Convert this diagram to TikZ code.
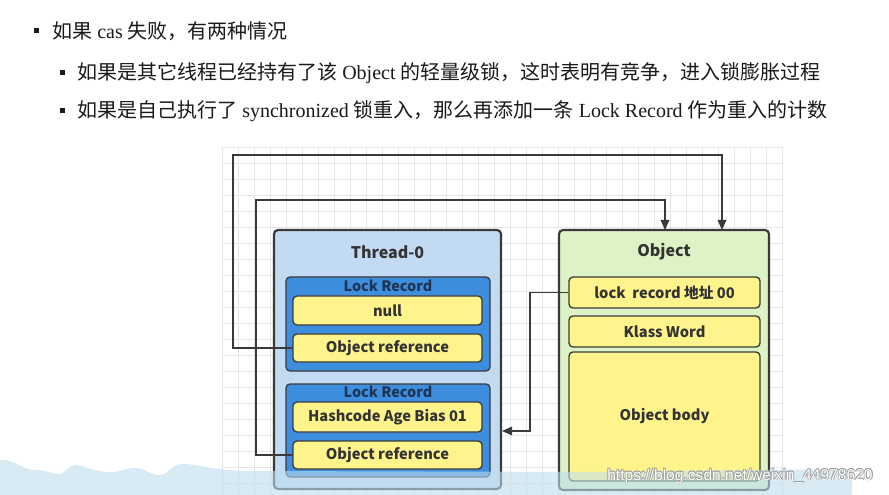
\documentclass[tikz,border=0pt]{standalone}
\usepackage{fontspec}
\setmainfont{Liberation Serif}
\newfontfamily\cjk{Noto Sans CJK SC}
\newfontfamily\dg{Noto Sans CJK SC}
\newfontfamily\wmf{Liberation Sans}
\usetikzlibrary{arrows.meta}
\definecolor{txt}{HTML}{1A1A1A}
\definecolor{dtxt}{HTML}{333333}
\definecolor{thfill}{HTML}{C3DAF3}
\definecolor{lrfill}{HTML}{3E8EE0}
\definecolor{yfill}{HTML}{FFF48C}
\definecolor{obfill}{HTML}{DDF3C6}
\definecolor{bord}{HTML}{3A3A3A}
\definecolor{gridc}{HTML}{E6E6E6}
\definecolor{wave}{HTML}{BEDFEE}
\definecolor{lrtxt}{HTML}{1F3554}
\definecolor{wmshadow}{HTML}{9A9A9A}
\tikzset{
  box/.style={draw=bord, line width=1.3pt, rounded corners=3pt, inner sep=0pt},
  outerbox/.style={box, line width=1.6pt},
  ybox/.style={box, fill=yfill, line width=1pt, minimum width=189*0.75pt, font=\dg\bfseries\fontsize{11}{13}\selectfont, text=dtxt},
  lrbox/.style={box, fill=lrfill, line width=1pt, minimum width=204*0.75pt},
  ttl/.style={font=\dg\bfseries\fontsize{12}{14}\selectfont, text=dtxt},
  lrlab/.style={font=\dg\bfseries\fontsize{10.8}{13}\selectfont, text=lrtxt},
  conn/.style={draw=bord, line width=0.9pt},
  arr/.style={conn, -{Triangle[length=7.5pt,width=6.5pt]}},
  bul/.style={fill=txt, minimum size=3.75pt, inner sep=0pt},
  line/.style={anchor=west, text=txt, font=\fontsize{15}{18}\selectfont, inner sep=0pt},
  wmtext/.style={anchor=west, font=\wmf\fontsize{11.7}{13}\selectfont, inner sep=0pt}
}
\begin{document}
\begin{tikzpicture}[x=0.75pt, y=-0.75pt]
\useasboundingbox (0,0) rectangle (889,495);
\fill[white] (0,0) rectangle (889,495);
% grid
\begin{scope}
\clip (222,147) rectangle (783,495);
\foreach \x in {222,238,...,790} \draw[gridc, line width=0.5pt] (\x,147) -- (\x,495);
\foreach \y in {147,163,...,500} \draw[gridc, line width=0.5pt] (222,\y) -- (783,\y);
\end{scope}
% top text
\node[bul] (b1) at (36,31) {};
\node[line] (t1) at (52,31) {{\cjk 如果} cas {\cjk 失败，有两种情况}};
\node[bul] (b2) at (62,73) {};
\node[line] (t2) at (77,73) {{\cjk 如果是其它线程已经持有了该} Object {\cjk 的轻量级锁，这时表明有竞争，进入锁膨胀过程}};
\node[bul] (b3) at (62,111) {};
\node[line] (t3) at (77,111) {{\cjk 如果是自己执行了} synchronized {\cjk 锁重入，那么再添加一条} Lock Record {\cjk 作为重入的计数}};
% boxes
\node[outerbox, fill=thfill, minimum width=227*0.75pt, minimum height=259*0.75pt] (th) at (387.5,359.5) {};
\node[ttl] (thl) at (387.5,252) {Thread-0};
\node[lrbox, minimum height=94*0.75pt] (lr1) at (388,324) {};
\node[lrlab] (lr1l) at (388,285.5) {Lock Record};
\node[ybox, minimum height=29*0.75pt] (nul) at (387.5,310.5) {null};
\node[ybox, minimum height=28*0.75pt] (or1) at (387.5,348) {Object reference};
\node[lrbox, minimum height=93*0.75pt] (lr2) at (388,430.5) {};
\node[lrlab] (lr2l) at (388,392) {Lock Record};
\node[ybox, minimum height=30*0.75pt] (hb) at (387.5,417) {Hashcode Age Bias 01};
\node[ybox, minimum height=28*0.75pt] (or2) at (387.5,455) {Object reference};
\node[outerbox, fill=obfill, minimum width=210*0.75pt, minimum height=260*0.75pt] (ob) at (664,360) {};
\node[ttl] (obl) at (664,252) {Object};
\node[ybox, minimum width=191*0.75pt, minimum height=31*0.75pt] (lk) at (664.5,292.5) {lock\ \ record 地址 00};
\node[ybox, minimum width=191*0.75pt, minimum height=31*0.75pt] (kw) at (664.5,331.5) {Klass Word};
\node[ybox, minimum width=191*0.75pt, minimum height=129*0.75pt] (body) at (664.5,416.5) {Object body};
% connectors
\coordinate (k1) at (233,155);
\coordinate (e1) at (722,230);
\coordinate (k2) at (256,200);
\coordinate (e2) at (665,230);
\coordinate (k3) at (530,431);
\draw[arr] (or1.west) -| (k1) -| (e1);
\draw[arr] (or2.west) -| (k2) -| (e2);
\draw[arr] (lk.west) -| (k3) -- (k3 -| th.east);
% wave overlay
\fill[wave, opacity=0.6] (0,495) -- (0,460) .. controls (15,459) and (22,470) .. (35,470)
  .. controls (48,470) and (52,474) .. (58,474) .. controls (66,474) and (68,465) .. (75,465)
  .. controls (85,465) and (92,472) .. (110,472) .. controls (122,472) and (125,468) .. (135,468)
  .. controls (145,468) and (150,475) .. (160,475) .. controls (168,475) and (172,464) .. (182,464)
  .. controls (200,464) and (215,471) .. (250,471) -- (600,472)
  .. controls (700,470) and (780,470) .. (852,469) -- (852,495) -- cycle;
% watermark
\foreach \dx/\dy in {0.8/0.8, -0.6/0.6, 0.6/-0.6, -0.6/-0.6}
  \node[wmtext, text=wmshadow] at (607+\dx,476+\dy) {https://blog.csdn.net/weixin\_44978620};
\node[wmtext, text=white] (wm) at (607,476) {https://blog.csdn.net/weixin\_44978620};
\end{tikzpicture}
\end{document}
